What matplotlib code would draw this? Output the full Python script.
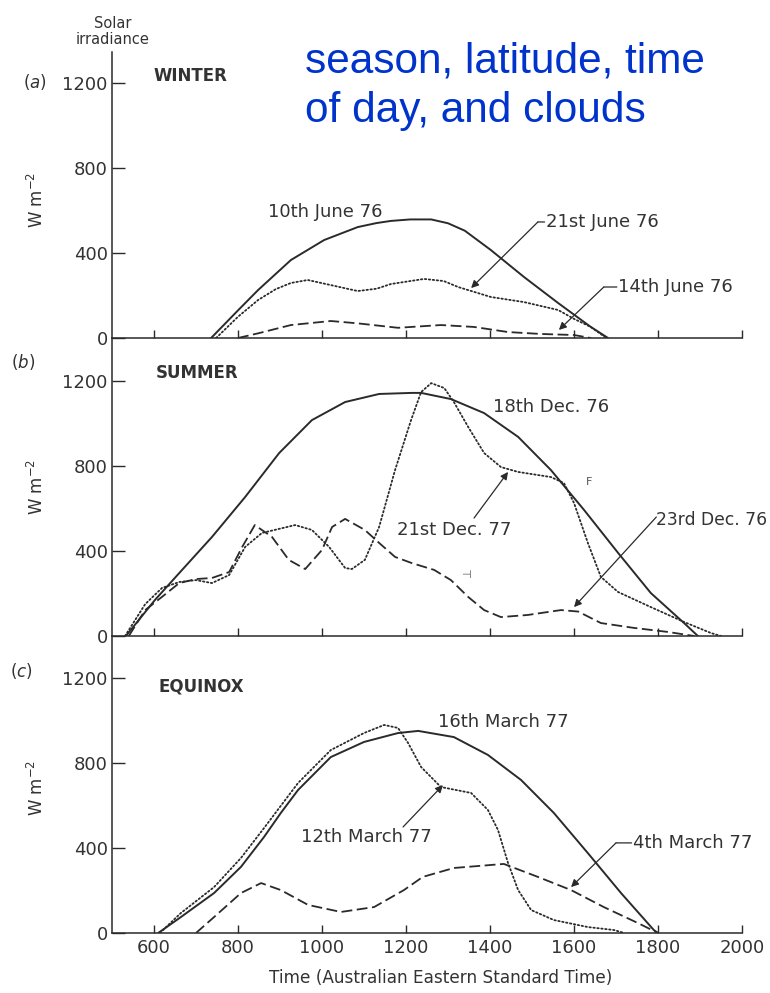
import matplotlib
matplotlib.use("Agg")
import matplotlib.pyplot as plt

# Time axis (Australian Eastern Standard Time, hhmm) and irradiance (W m-2)
# (a) winter
jun10_t = [736, 800, 848, 926, 1005, 1085, 1130, 1164, 1210, 1260, 1300, 1340, 1402, 1481, 1562, 1640, 1681]
jun10_v = [0, 130, 226, 367, 461, 522, 541, 551, 558, 558, 540, 505, 414, 287, 165, 52, 0]
jun21_t = [748, 800, 848, 890, 926, 966, 1021, 1085, 1130, 1164, 1243, 1290, 1324, 1402, 1481, 1562, 1600, 1640, 1677]
jun21_v = [0, 100, 179, 230, 259, 273, 249, 221, 232, 254, 278, 268, 240, 193, 169, 132, 90, 52, 0]
jun14_t = [800, 848, 926, 1021, 1085, 1181, 1283, 1362, 1443, 1521, 1600, 1640]
jun14_v = [0, 22, 61, 80, 69, 48, 61, 52, 28, 19, 14, 0]

# (b) summer
dec18_t = [533, 602, 660, 738, 817, 898, 976, 1055, 1136, 1214, 1236, 1307, 1386, 1467, 1545, 1624, 1705, 1783, 1862, 1895]
dec18_v = [0, 169, 296, 466, 654, 861, 1016, 1101, 1139, 1144, 1144, 1115, 1049, 937, 781, 593, 391, 202, 61, 0]
dec21_t = [531, 579, 619, 660, 700, 738, 779, 817, 857, 936, 976, 1017, 1055, 1071, 1102, 1136, 1174, 1212,
           1236, 1260, 1291, 1314, 1348, 1386, 1426, 1467, 1545, 1576, 1600, 1633, 1664, 1705, 1783, 1862, 1926, 1950]
dec21_v = [0, 150, 226, 254, 263, 249, 287, 419, 485, 522, 499, 419, 320, 315, 358, 513, 781, 1016,
           1148, 1190, 1167, 1101, 984, 861, 795, 772, 748, 720, 626, 438, 278, 207, 136, 66, 14, 0]
dec23_t = [540, 579, 619, 660, 700, 738, 779, 810, 840, 881, 921, 960, 1000, 1024, 1055, 1102, 1136, 1174,
           1214, 1267, 1307, 1348, 1386, 1426, 1490, 1569, 1610, 1664, 1743, 1824, 1886]
dec23_v = [0, 122, 184, 249, 268, 273, 301, 419, 522, 466, 358, 315, 405, 513, 551, 499, 438, 372,
           343, 311, 263, 184, 122, 89, 99, 122, 115, 61, 38, 19, 0]

# (c) equinox
mar16_t = [610, 664, 743, 807, 862, 902, 943, 1021, 1100, 1181, 1229, 1314, 1395, 1474, 1552, 1633, 1712, 1790, 1800]
mar16_v = [0, 75, 188, 311, 452, 565, 673, 828, 899, 941, 951, 922, 838, 720, 565, 376, 188, 14, 0]
mar12_t = [614, 664, 743, 807, 862, 943, 1021, 1100, 1148, 1181, 1205, 1236, 1283, 1355, 1395, 1419, 1443,
           1467, 1498, 1552, 1633, 1695, 1720]
mar12_v = [0, 94, 216, 353, 494, 706, 861, 941, 979, 965, 894, 781, 687, 659, 579, 485, 329,
           202, 108, 61, 28, 14, 0]
mar4_t = [700, 743, 807, 855, 902, 967, 1045, 1124, 1195, 1240, 1314, 1433, 1514, 1593, 1671, 1752, 1800]
mar4_v = [0, 75, 188, 235, 202, 132, 99, 122, 202, 264, 306, 325, 264, 202, 122, 47, 0]

xticks = [600, 800, 1000, 1200, 1400, 1600, 1800, 2000]
yticks = [0, 400, 800, 1200]

ink = "#2a2a2a"
plt.rcParams["font.family"] = "DejaVu Sans"

fig = plt.figure(figsize=(7.7, 9.93), dpi=100)
left, width = 112 / 770, 630 / 770
# (bottom px, top px, ymax) for each panel
boxes = [(338, 52, 1346), (636, 338.5, 1400), (933, 635.5, 1400)]
axes = []
for bot, top, ymax in boxes:
    ax = fig.add_axes([left, 1 - bot / 993, width, (bot - top) / 993])
    ax.set_xlim(500, 2000)
    ax.set_ylim(0, ymax)
    for s in ["top", "right"]:
        ax.spines[s].set_visible(False)
    for s in ["left", "bottom"]:
        ax.spines[s].set_color(ink)
        ax.spines[s].set_linewidth(1.1)
    ax.set_xticks(xticks)
    ax.set_yticks(yticks)
    ax.tick_params(axis="y", direction="in", length=9, width=1, color=ink, pad=3,
                   labelsize=13, labelcolor="#333333")
    ax.tick_params(axis="x", direction="in", length=6, width=1, color=ink, pad=4,
                   labelsize=13, labelcolor="#333333")
    ax.patch.set_alpha(0)
    axes.append(ax)

ax_a, ax_b, ax_c = axes
ax_a.tick_params(labelbottom=False)
ax_b.tick_params(labelbottom=False)

solid = dict(color=ink, lw=1.4, solid_capstyle="round", solid_joinstyle="round")
dotted = dict(color=ink, lw=1.3, linestyle=(0, (0.8, 1.4)), dash_capstyle="round")
dashed = dict(color=ink, lw=1.3, linestyle=(0, (6, 2.5)), dash_joinstyle="round")

ax_a.plot(jun10_t, jun10_v, **solid)
ax_a.plot(jun21_t, jun21_v, **dotted)
ax_a.plot(jun14_t, jun14_v, **dashed)

ax_b.plot(dec18_t, dec18_v, **solid)
ax_b.plot(dec21_t, dec21_v, **dotted)
ax_b.plot(dec23_t, dec23_v, **dashed)

ax_c.plot(mar16_t, mar16_v, **solid)
ax_c.plot(mar12_t, mar12_v, **dotted)
ax_c.plot(mar4_t, mar4_v, **dashed)

arrow = dict(arrowstyle="-|>", color=ink, lw=0.9, mutation_scale=11, shrinkA=0, shrinkB=0)
plain = dict(arrowstyle="-", color=ink, lw=0.9, shrinkA=0, shrinkB=0)
lab = dict(fontsize=13, color="#333333", va="center", ha="left")


def leader(ax, text, txt_xy, elbow, tip):
    ax.text(txt_xy[0], txt_xy[1], text, **lab)
    ax.annotate("", xy=elbow, xytext=(txt_xy[0] - 3, txt_xy[1]), arrowprops=plain)
    ax.annotate("", xy=tip, xytext=elbow, arrowprops=arrow)


# panel titles
ax_a.text(598, 1233, "WINTER", fontsize=12, fontweight="bold", color="#333333", va="center")
ax_b.text(605, 1238, "SUMMER", fontsize=12, fontweight="bold", color="#333333", va="center")
ax_c.text(610, 1158, "EQUINOX", fontsize=12, fontweight="bold", color="#333333", va="center")

# (a) labels
ax_a.text(871, 593, "10th June 76", **lab)
leader(ax_a, "21st June 76", (1533, 546), (1514, 546), (1355, 235))
leader(ax_a, "14th June 76", (1705, 240), (1671, 240), (1564, 38))

# (b) labels
ax_b.text(1407, 1078, "18th Dec. 76", **lab)
ax_b.text(1314, 499, "21st Dec. 77", fontsize=13, color="#333333", va="center", ha="center")
ax_b.annotate("", xy=(1443, 772), xytext=(1362, 555), arrowprops=arrow)
ax_b.text(1796, 546, "23rd Dec. 76", fontsize=12.3, color="#333333", va="center", ha="left")
ax_b.annotate("", xy=(1600, 136), xytext=(1796, 560), arrowprops=arrow)
ax_b.text(1636, 725, "F", fontsize=8, color="#555555", ha="center", va="center")
ax_b.text(1343, 287, "⊣", fontsize=8, color="#555555", ha="center", va="center")

# (c) labels
ax_c.text(1276, 993, "16th March 77", **lab)
ax_c.text(950, 452, "12th March 77", **lab)
ax_c.annotate("", xy=(1288, 696), xytext=(1193, 499), arrowprops=arrow)
leader(ax_c, "4th March 77", (1740, 424), (1700, 424), (1593, 216))

# figure level text
for x, y, t in [(35, 82, r"$(\mathit{a})$"), (23, 362, r"$(\mathit{b})$"), (21, 671, r"$(\mathit{c})$")]:
    fig.text(x / 770, 1 - y / 993, t, fontsize=12, color="#333333", ha="center", va="center")
for y in [200, 487, 788]:
    fig.text(37 / 770, 1 - y / 993, r"W m$^{-2}$", fontsize=12, color="#333333",
             rotation=90, ha="center", va="center")
fig.text(113 / 770, 1 - 23 / 993, "Solar", fontsize=10.5, color="#333333", ha="center", va="center")
fig.text(113 / 770, 1 - 40 / 993, "irradiance", fontsize=10.5, color="#333333", ha="center", va="center")
fig.text(441 / 770, 1 - 978 / 993, "Time (Australian Eastern Standard Time)", fontsize=12.2,
         color="#333333", ha="center", va="center")

blue = dict(fontsize=30.5, color="#0033cc", family="Liberation Sans", va="baseline", ha="left")
fig.text(305 / 770, 1 - 72 / 993, "season, latitude, time", **blue)
fig.text(305 / 770, 1 - 122 / 993, "of day, and clouds", **blue)

fig.savefig("out.png", dpi=100)
